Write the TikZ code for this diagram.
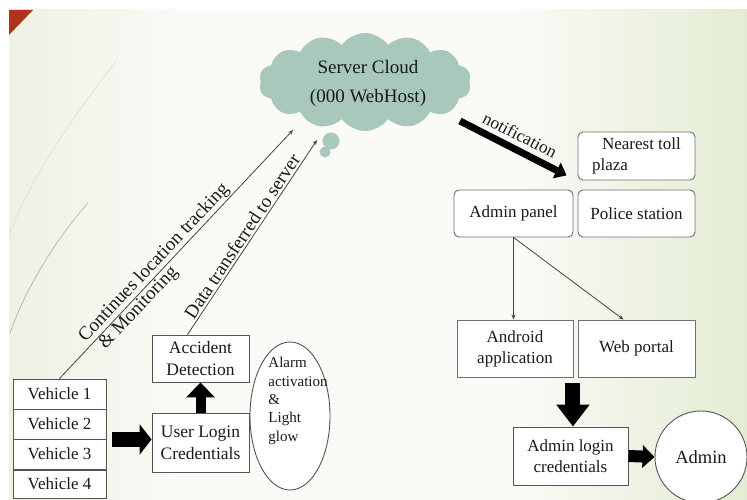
\documentclass[tikz,border=0pt]{standalone}
\usepackage{fontspec}
\setmainfont{Liberation Serif}
\usetikzlibrary{shapes.symbols,shapes.geometric,arrows.meta,calc}
\definecolor{cloudfill}{HTML}{A9C8BC}
\definecolor{slidered}{HTML}{B2331B}
\definecolor{bgleft}{HTML}{EDF2E3}
\definecolor{bgmid}{HTML}{FAFAF6}
\definecolor{bgright}{HTML}{E3ECD3}
\definecolor{boxline}{HTML}{555555}
\definecolor{rline}{HTML}{707070}
\definecolor{lineclr}{HTML}{444444}
\definecolor{txt}{HTML}{1A1A1A}
\tikzset{
  box/.style={draw=boxline, line width=0.9pt, fill=white, align=center, text=txt,
    font=\fontsize{17}{21}\selectfont, inner sep=1pt},
  rbox/.style={box, draw=rline, rounded corners=5pt},
  conn/.style={draw=lineclr, line width=0.8pt, -{Stealth[length=5pt,width=4pt]}},
  bigarrow/.style={draw=black},
  lbl/.style={font=\fontsize{19}{22}\selectfont, text=txt, sloped, inner sep=1pt},
  deco/.style={draw=gray!45, line width=0.7pt}
}
\begin{document}
\begin{tikzpicture}[x=1pt,y=-1pt]
\useasboundingbox (0,0) rectangle (747,500);
% background
\fill[white] (0,0) rectangle (747,500);
\fill[bgmid] (9,10) rectangle (747,500);
\shade[left color=bgleft, right color=bgmid] (9,10) rectangle (180,500);
\shade[left color=bgmid, right color=bgright] (520,10) rectangle (747,500);
\fill[slidered] (9,10) -- (33,10) -- (9,35) -- cycle;
\draw[deco, draw=gray!25] (117,60) .. controls (70,120) and (30,180) .. (10,233);
\draw[deco, draw=gray!60] (88,203) .. controls (55,240) and (25,290) .. (10,333);

% cloud
\node[cloud, cloud puffs=14, cloud puff arc=110, cloud ignores aspect, fill=cloudfill,
  minimum width=212pt, minimum height=98pt, inner sep=0pt] (cloud) at (365,82) {};
\node[align=center, text=txt, font=\fontsize{19}{29}\selectfont] (cloudtxt) at (368,83) {Server Cloud\\(000 WebHost)};
\fill[cloudfill] (331,141) circle (8.5);
\fill[cloudfill] (325,152) circle (5.5);
\coordinate (c1) at (293,130);
\coordinate (c2) at (317,140);

% left side
\node[box, minimum width=93pt, minimum height=30pt] (v1) at (59.5,394) {Vehicle 1};
\node[box, minimum width=93pt, minimum height=30pt] (v2) at (59.5,424) {Vehicle 2};
\node[box, minimum width=93pt, minimum height=30pt] (v3) at (59.5,454) {Vehicle 3};
\node[box, minimum width=93pt, minimum height=28pt] (v4) at (59.5,484) {Vehicle 4};
\node[box, font=\fontsize{17.5}{22}\selectfont, minimum width=97pt, minimum height=59pt] (ulc) at (200.5,442.5) {User Login\\Credentials};
\node[box, font=\fontsize{17.5}{22}\selectfont, minimum width=97pt, minimum height=47pt] (ad) at (200.5,358.5) {Accident\\Detection};
\node[ellipse, draw=boxline, line width=0.9pt, fill=white, minimum width=80pt, minimum height=148pt, inner sep=0pt] (alarm) at (290,416) {};
\node[align=left, text=txt, font=\fontsize{15}{18.3}\selectfont, inner sep=0pt] (alarmtxt) at (298,401) {Alarm\\activation\\\&\\Light\\glow};

% right side
\node[rbox, minimum width=117pt, minimum height=48pt, align=left] (ntp) at (636.5,156) {\hspace{10pt}Nearest toll\\plaza};
\node[rbox, minimum width=119pt, minimum height=47pt] (ap) at (513.5,213.5) {Admin panel};
\node[rbox, minimum width=117pt, minimum height=47pt] (ps) at (636.5,213.5) {Police station};
\node[box, draw=rline, minimum width=116pt, minimum height=57pt] (andr) at (515,348.5) {Android\\application};
\node[box, draw=rline, minimum width=117pt, minimum height=57pt] (wp) at (636.5,348.5) {Web portal};
\node[box, minimum width=115pt, minimum height=58pt] (alc) at (570.5,456) {Admin login\\credentials};
\node[circle, draw=boxline, line width=0.9pt, fill=white, minimum size=92pt, inner sep=0pt,
  text=txt, font=\fontsize{18.5}{22}\selectfont] (admin) at (701,457) {Admin};
\coordinate (n1) at (460,121);

% connectors
\draw[conn] (v1.north) -- (c1)
  node[lbl, pos=0.125, anchor=south west] {Continues location tracking}
  node[lbl, pos=0.15, anchor=north west] {\& Monitoring};
\draw[conn] ([xshift=-13pt]ad.north) -- (c2)
  node[lbl, pos=0.48, above=1pt] {Data transferred to server};
\draw[conn] (ap.south) -- (ap.south |- andr.north);
\draw[conn] (ap.south) -- ([xshift=-13pt]wp.north);

% big arrows
\draw[bigarrow, line width=7pt, -{Triangle[length=11pt,width=17pt]}] (n1) -- ([xshift=-11pt,yshift=5pt]ntp.south west)
  node[lbl, font=\fontsize{17.5}{20}\selectfont, midway, above=4pt] {notification};
\draw[bigarrow, line width=15pt, -{Triangle[length=12pt,width=30pt]}] ([xshift=6pt]v2.south east) -- (v2.south east -| ulc.west);
\draw[bigarrow, line width=10pt, -{Triangle[length=15pt,width=28pt]}] (ulc.north) -- (ad.south);
\draw[bigarrow, line width=15pt, -{Triangle[length=22pt,width=32pt]}] ([xshift=-0.5pt,yshift=-6pt]andr.south east) -- ([xshift=-0.5pt]andr.south east |- alc.north);
\draw[bigarrow, line width=12pt, -{Triangle[length=12pt,width=22pt]}] (alc.east) -- (admin.west);
\end{tikzpicture}
\end{document}
